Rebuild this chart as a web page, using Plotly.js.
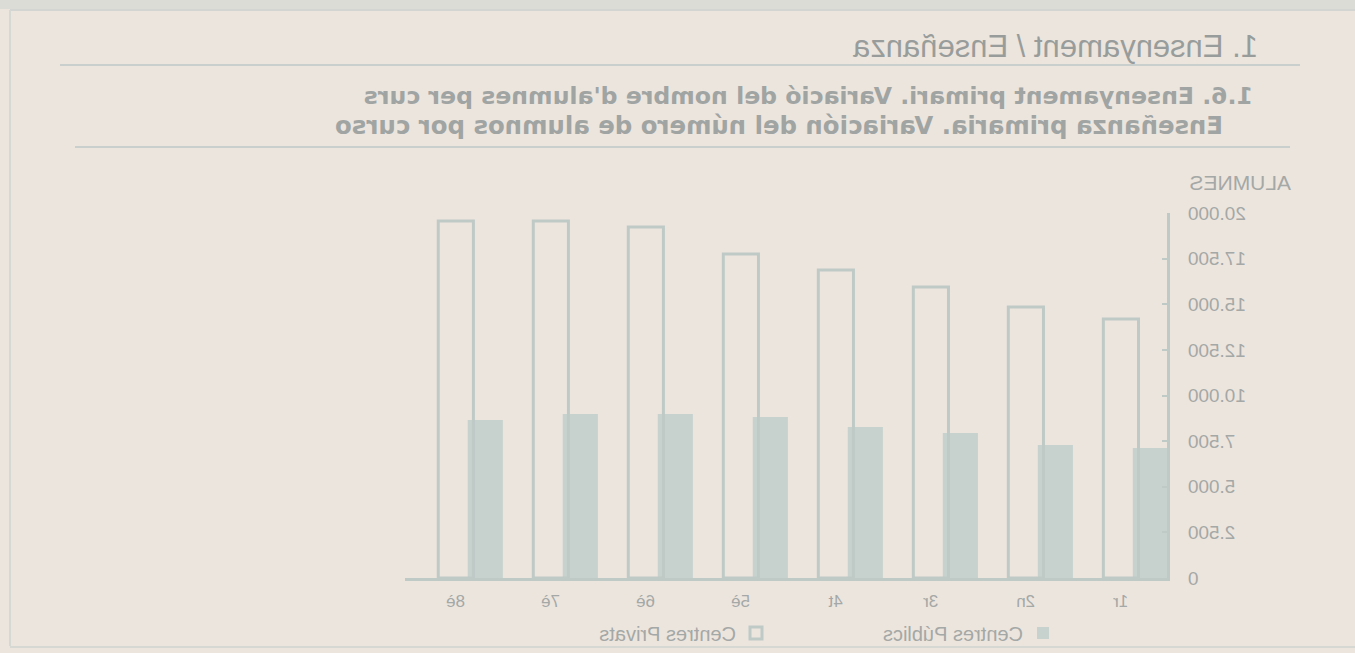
<!DOCTYPE html>
<html>
<head>
<meta charset="utf-8">
<script src="https://cdn.plot.ly/plotly-3.0.1.min.js"></script>
<style>
  html, body { margin: 0; padding: 0; background: #ece5de; }
  #chart { width: 1355px; height: 653px; transform: scaleX(-1); transform-origin: center; }
</style>
</head>
<body>
<div id="chart"></div>
<script>
// Data
const cursos = ['1r', '2n', '3r', '4t', '5è', '6è', '7è', '8è'];
const centresPublics = [7120, 7290, 7950, 8270, 8820, 8990, 8990, 8660];
const centresPrivats = [14190, 14850, 15950, 16880, 17750, 19230, 19560, 19560];
const yTicks = [0, 2500, 5000, 7500, 10000, 12500, 15000, 17500, 20000];

const titleMain = '1. Ensenyament / Enseñanza';
const subtitleCa = "1.6. Ensenyament primari. Variació del nombre d'alumnes per curs";
const subtitleEs = 'Enseñanza primaria. Variación del número de alumnos por curso';
const yTitle = 'ALUMNES';

// Layout geometry (pixels)
const W = 1355, H = 653;
const L = 188, R = 405, T = 213, B = 75;
const pw = W - L - R, ph = H - T - B;
const px = x => (x - L) / pw;
const py = y => (H - B - y) / ph;

const textCol = '#a4a8a6';
const barCol = '#c7d2ce';
const lineCol = '#bfcac7';
const bg = '#ece5de';

const traces = [
  {
    type: 'bar', name: 'Centres Públics', x: cursos, y: centresPublics,
    width: 0.37, offset: -0.34,
    marker: { color: barCol, line: { width: 0 } },
    hoverinfo: 'skip'
  },
  {
    type: 'bar', name: 'Centres Privats', x: cursos, y: centresPrivats,
    width: 0.37, offset: -0.03,
    marker: { color: 'rgba(0,0,0,0)', line: { color: lineCol, width: 3 } },
    hoverinfo: 'skip'
  }
];

const layout = {
  width: W, height: H,
  margin: { l: L, r: R, t: T, b: B, pad: 0, autoexpand: false },
  paper_bgcolor: bg, plot_bgcolor: bg,
  font: { family: 'Liberation Sans, Arial, sans-serif', color: textCol, size: 16 },
  separators: ',.',
  barmode: 'overlay',
  showlegend: true,
  legend: {
    orientation: 'h', x: px(292), y: py(633), xanchor: 'left', yanchor: 'middle',
    bgcolor: 'rgba(0,0,0,0)', font: { size: 20, color: textCol },
    entrywidth: 242, entrywidthmode: 'pixels', traceorder: 'normal'
  },
  xaxis: {
    type: 'category', range: [-0.33, 7.69],
    showline: true, linecolor: lineCol, linewidth: 3,
    showgrid: false, zeroline: false, ticks: '',
    ticklabelstandoff: 6, ticklabelshift: 15,
    tickfont: { size: 17, color: textCol }
  },
  yaxis: {
    range: [0, 20000], tickvals: yTicks, tickformat: ',d',
    showline: true, linecolor: lineCol, linewidth: 3,
    showgrid: false, zeroline: false,
    ticks: 'inside', ticklen: 5, tickwidth: 2, tickcolor: lineCol,
    ticklabelstandoff: 14,
    tickfont: { size: 19, color: textCol }
  },
  annotations: [
    { text: titleMain, xref: 'paper', yref: 'paper', x: px(95), y: py(46), xanchor: 'left', yanchor: 'middle',
      showarrow: false, font: { size: 31, color: '#989d9b', family: 'Liberation Sans, Arial, sans-serif' } },
    { text: '<b>' + subtitleCa + '</b>', xref: 'paper', yref: 'paper', x: px(100), y: py(96), xanchor: 'left', yanchor: 'middle',
      showarrow: false, font: { size: 23.6, color: '#a0a4a2', family: 'DejaVu Sans, sans-serif' } },
    { text: '<b>' + subtitleEs + '</b>', xref: 'paper', yref: 'paper', x: px(130), y: py(126), xanchor: 'left', yanchor: 'middle',
      showarrow: false, font: { size: 24.4, color: '#a0a4a2', family: 'DejaVu Sans, sans-serif' } },
    { text: yTitle, xref: 'paper', yref: 'paper', x: px(168), y: py(183), xanchor: 'right', yanchor: 'middle',
      showarrow: false, font: { size: 21, color: textCol } }
  ],
  shapes: [
    { type: 'rect', xref: 'paper', yref: 'paper', x0: px(0), x1: px(W), y0: py(0), y1: py(9), fillcolor: '#dcdcd7', line: { width: 0 }, layer: 'below' },
    { type: 'line', xref: 'paper', yref: 'paper', x0: px(0), x1: px(1345), y0: py(10), y1: py(10), line: { color: '#d2d5d1', width: 2 } },
    { type: 'line', xref: 'paper', yref: 'paper', x0: px(1345), x1: px(1345), y0: py(10), y1: py(646), line: { color: '#d6d8d4', width: 2 } },
    { type: 'line', xref: 'paper', yref: 'paper', x0: px(0), x1: px(1345), y0: py(647), y1: py(647), line: { color: '#d6d8d4', width: 2 } },
    { type: 'line', xref: 'paper', yref: 'paper', x0: px(55), x1: px(1295), y0: py(65), y1: py(65), line: { color: '#c9cfcc', width: 2 } },
    { type: 'line', xref: 'paper', yref: 'paper', x0: px(65), x1: px(1280), y0: py(147), y1: py(147), line: { color: '#c9cfcc', width: 2 } }
  ]
};

Plotly.newPlot('chart', traces, layout, { staticPlot: true, displayModeBar: false });
</script>
</body>
</html>
